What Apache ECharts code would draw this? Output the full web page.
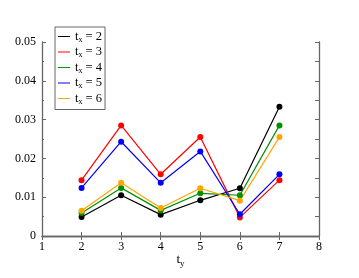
<!DOCTYPE html>
<html><head><meta charset="utf-8">
<script src="https://cdn.jsdelivr.net/npm/echarts@6/dist/echarts.min.js"></script>
<style>html,body{margin:0;padding:0;background:#fff}#c{width:359px;height:278px}</style>
</head><body><div id="c"></div>
<script>
const ty = [2, 3, 4, 5, 6, 7];
const tx2 = [0.0049, 0.0105, 0.0055, 0.0092, 0.0123, 0.0333];
const tx3 = [0.0144, 0.0285, 0.0159, 0.0255, 0.0048, 0.0144];
const tx4 = [0.0059, 0.0124, 0.0066, 0.0110, 0.0105, 0.0285];
const tx5 = [0.0124, 0.0243, 0.0137, 0.0218, 0.0056, 0.0159];
const tx6 = [0.0065, 0.0137, 0.0072, 0.0123, 0.0091, 0.0255];
const seriesNames = ['2', '3', '4', '5', '6'];
const seriesData = [tx2, tx3, tx4, tx5, tx6];
const colors = ['#000000', '#ff0000', '#009000', '#0000ff', '#ffa500'];

const font = 'Liberation Serif';
const axisColor = '#666666';
const chart = echarts.init(document.getElementById('c'));
const series = seriesData.map((d, i) => ({
  name: 'tx = ' + seriesNames[i],
  type: 'line',
  xAxisIndex: 0, yAxisIndex: 0,
  data: ty.map((x, j) => [x, d[j]]),
  symbol: 'circle', symbolSize: 6,
  lineStyle: { width: 1.2, color: colors[i] },
  itemStyle: { color: colors[i] },
  animation: false
}));
const grid = { left: 42, right: 40, top: 42, bottom: 42 };
chart.setOption({
  animation: false,
  grid: grid,
  legend: {
    orient: 'vertical', left: 55, top: 27,
    padding: [3, 3, 4, 3],
    borderColor: axisColor, borderWidth: 1,
    itemWidth: 12, itemHeight: 1, itemGap: 2, icon: 'rect',
    data: series.map(s => s.name),
    formatter: function (n) { return '{t|t}{s|x}{t| = ' + n.split('= ')[1] + '}'; },
    textStyle: {
      fontFamily: font, color: '#000',
      rich: {
        t: { fontFamily: font, fontSize: 12.5, color: '#000', lineHeight: 13.6 },
        s: { fontFamily: font, fontSize: 8, color: '#000', verticalAlign: 'bottom', padding: [6, 0, 0, 0] }
      }
    }
  },
  xAxis: [
    { type: 'value', min: 1, max: 8, interval: 1, position: 'bottom',
      name: '{t|t}{s|y}', nameLocation: 'middle', nameGap: 15, nameMoveOverlap: false,
      nameTextStyle: { rich: {
        t: { fontFamily: font, fontSize: 13, color: '#000' },
        s: { fontFamily: font, fontSize: 9, color: '#000', padding: [8, 0, 0, 0] } } },
      axisLine: { show: true, lineStyle: { color: axisColor, width: 1.3 } },
      axisTick: { show: true, inside: true, length: 4, lineStyle: { color: axisColor } },
      splitLine: { show: false },
      axisLabel: { fontFamily: font, fontSize: 12, color: '#000', margin: 5 } },
    { type: 'value', min: 1, max: 8, interval: 1, position: 'top',
      axisLine: { show: true, lineStyle: { color: axisColor, width: 1.3 } },
      axisTick: { show: true, inside: true, length: 4, lineStyle: { color: axisColor } },
      splitLine: { show: false }, axisLabel: { show: false } }
  ],
  yAxis: [
    { type: 'value', min: 0, max: 0.05, interval: 0.01, position: 'left',
      axisLine: { show: true, lineStyle: { color: axisColor, width: 1.3 } },
      axisTick: { show: true, inside: true, length: 4, lineStyle: { color: axisColor } },
      minorTick: { show: true, splitNumber: 2, length: 2, lineStyle: { color: axisColor } },
      splitLine: { show: false },
      axisLabel: { fontFamily: font, fontSize: 12, color: '#000', margin: 6,
        formatter: v => v === 0 ? '0' : v.toFixed(2) } },
    { type: 'value', min: 0, max: 0.05, interval: 0.005, position: 'right',
      axisLine: { show: true, lineStyle: { color: axisColor, width: 1.3 } },
      axisTick: { show: true, inside: true, length: 4, lineStyle: { color: axisColor } },
      splitLine: { show: false }, axisLabel: { show: false } }
  ],
  series: series
});
</script></body></html>
